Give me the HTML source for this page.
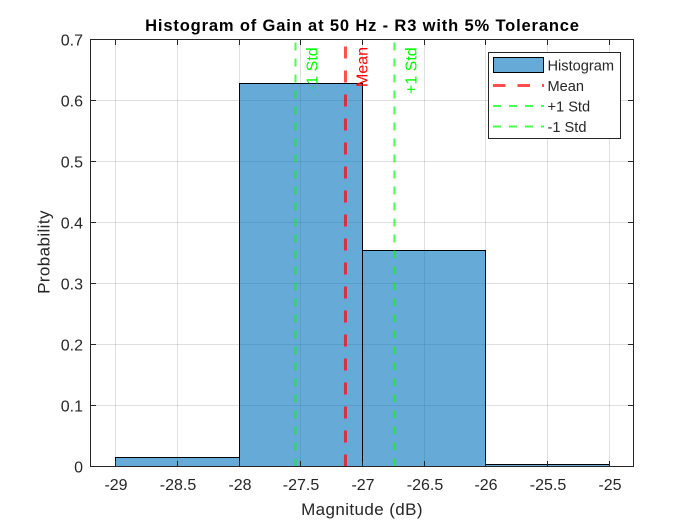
<!DOCTYPE html>
<html>
<head>
<meta charset="utf-8">
<title>Histogram of Gain at 50 Hz</title>
<style>
html,body{margin:0;padding:0;background:#fff;width:700px;height:525px;overflow:hidden}
svg{display:block;font-family:"Liberation Sans",sans-serif}
</style>
</head>
<body>
<svg id="chart" width="700" height="525" viewBox="0 0 700 525" xmlns="http://www.w3.org/2000/svg">
<rect width="700" height="525" fill="#fff"/>
<rect x="90.5" y="39.5" width="543" height="427" fill="#fff"/>
<g id="gridtop"></g>
<g id="bars"></g>
<g id="vlines"></g>
<g id="axes"></g>
<text x="362.5" y="31" text-anchor="middle" font-size="16.5" letter-spacing="0.85" font-weight="bold" fill="#000">Histogram of Gain at 50 Hz - R3 with 5% Tolerance</text>
<text x="362" y="515" text-anchor="middle" font-size="17" letter-spacing="0.4" fill="#262626">Magnitude (dB)</text>
<text transform="translate(49.5 252) rotate(-90)" text-anchor="middle" font-size="17" letter-spacing="0.4" fill="#262626">Probability</text>
<g id="legend">
<rect x="488.5" y="52.5" width="132" height="86" fill="#fff" stroke="#262626" stroke-width="1"/>
<rect x="493.5" y="57.5" width="50" height="15" fill="#66aad7" stroke="#000" stroke-width="1"/>
<text x="547.5" y="70.5" font-size="14.6" fill="#262626">Histogram</text>
<line x1="493" y1="85.5" x2="544" y2="85.5" stroke="#ff0000" stroke-opacity="0.7" stroke-width="3" stroke-dasharray="12.5 12"/>
<text x="547.5" y="91" font-size="14.6" fill="#262626">Mean</text>
<line x1="493" y1="106" x2="544" y2="106" stroke="#00ff00" stroke-opacity="0.7" stroke-width="2" stroke-dasharray="8 8"/>
<text x="547.5" y="111.5" font-size="14.6" fill="#262626">+1 Std</text>
<line x1="493" y1="126.5" x2="544" y2="126.5" stroke="#00ff00" stroke-opacity="0.7" stroke-width="2" stroke-dasharray="8 8"/>
<text x="547.5" y="132" font-size="14.6" fill="#262626">-1 Std</text>
</g>
</svg>
<script>
const binEdges = [-29, -28, -27, -26, -25];
const binProbabilities = [0.015, 0.628, 0.354, 0.004];
const xTickValues = [-29, -28.5, -28, -27.5, -27, -26.5, -26, -25.5, -25];
const xTickLabels = ['-29', '-28.5', '-28', '-27.5', '-27', '-26.5', '-26', '-25.5', '-25'];
const yTickValues = [0, 0.1, 0.2, 0.3, 0.4, 0.5, 0.6, 0.7];
const yTickLabels = ['0', '0.1', '0.2', '0.3', '0.4', '0.5', '0.6', '0.7'];
const meanValue = -27.138;
const plusStdValue = -26.741;
const minusStdValue = -27.543;

const NS = 'http://www.w3.org/2000/svg';
const L = 90.5, R = 633.5, T = 39.5, B = 466.5;
const xMin = -29.2, xMax = -24.8, yMin = 0, yMax = 0.7;
function rawX(v) { return 91 + (v - xMin) / (xMax - xMin) * 543; }
function X(v) { return Math.floor(rawX(v)) + 0.5; }
function Y(v) { return Math.floor(B - (v - yMin) / (yMax - yMin) * (B - T)) + 0.5; }
function make(tag, attrs, parent) {
  const el = document.createElementNS(NS, tag);
  for (const k in attrs) el.setAttribute(k, attrs[k]);
  parent.appendChild(el);
  return el;
}
const gTop = document.getElementById('gridtop');
const gBars = document.getElementById('bars');
const gV = document.getElementById('vlines');
const gAxes = document.getElementById('axes');

xTickValues.forEach(function (v) {
  const ln = make('line', { x1: X(v), x2: X(v), y1: T, y2: B, stroke: '#262626', 'stroke-opacity': 0.15 }, gTop);
  
  
});
yTickValues.forEach(function (v) {
  const ln = make('line', { x1: L, x2: R, y1: Y(v), y2: Y(v), stroke: '#262626', 'stroke-opacity': 0.15 }, gTop);
  
  
});

binProbabilities.forEach(function (p, i) {
  const x0 = X(binEdges[i]), x1 = X(binEdges[i + 1]), y = Y(p);
  const r = make('rect', { x: x0, y: y, width: x1 - x0, height: B - y, fill: '#0072bd', 'fill-opacity': 0.6, stroke: '#000', 'stroke-width': 1 }, gBars);
  
  
});

function vline(value, color, width, dash, name) {
  const ln = make('line', { x1: rawX(value), x2: rawX(value), y1: B, y2: T, stroke: color, 'stroke-opacity': 0.7, 'stroke-width': width, 'stroke-dasharray': dash }, gV);
  
  
}
vline(minusStdValue, '#00ff00', 2, '8 8', 'minus-std-line');
vline(meanValue, '#ff0000', 3, '12 12', 'mean-line');
vline(plusStdValue, '#00ff00', 2, '8 8', 'plus-std-line');

function vlabel(value, text, color, yPx, name) {
  const t = make('text', { transform: 'translate(' + (rawX(value) + 22) + ' ' + yPx + ') rotate(-90)', 'font-size': 16, fill: color }, gV);
  t.textContent = text;
  
  
}
vlabel(minusStdValue, '-1 Std', '#00ff00', 90, 'minus-std-label');
vlabel(meanValue, 'Mean', '#ff0000', 87, 'mean-label');
vlabel(plusStdValue, '+1 Std', '#00ff00', 94, 'plus-std-label');

const frame = make('rect', { x: L, y: T, width: R - L, height: B - T, fill: 'none', stroke: '#262626', 'stroke-width': 1 }, gAxes);



xTickValues.forEach(function (v, i) {
  const a = make('line', { x1: X(v), x2: X(v), y1: B, y2: B - 5.5, stroke: '#262626' }, gAxes);
  
  
  const b = make('line', { x1: X(v), x2: X(v), y1: T, y2: T + 5.5, stroke: '#262626' }, gAxes);
  
  
  const t = make('text', { x: X(v) + 0.5, y: 490, 'text-anchor': 'middle', 'font-size': 16, fill: '#262626' }, gAxes);
  t.textContent = xTickLabels[i];
  
  
});
yTickValues.forEach(function (v, i) {
  const a = make('line', { x1: L, x2: L + 5.5, y1: Y(v), y2: Y(v), stroke: '#262626' }, gAxes);
  
  
  const b = make('line', { x1: R, x2: R - 5.5, y1: Y(v), y2: Y(v), stroke: '#262626' }, gAxes);
  
  
  const t = make('text', { x: 83, y: Y(v) + 6, 'text-anchor': 'end', 'font-size': 16, fill: '#262626' }, gAxes);
  t.textContent = yTickLabels[i];
  
  
});
</script>
</body>
</html>
